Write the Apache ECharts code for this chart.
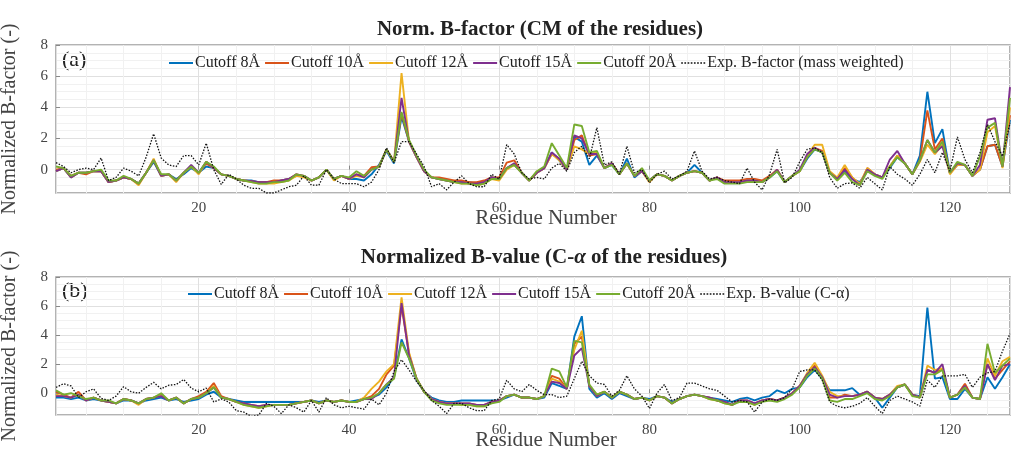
<!DOCTYPE html>
<html>
<head>
<meta charset="utf-8">
<script src="https://cdn.jsdelivr.net/npm/echarts@6/dist/echarts.min.js"></script>
<style>html,body{margin:0;background:#fff}#divChart{width:1011px;height:452px}</style>
</head>
<body>
<div id="divChart"></div>
<script>
//residue numbers 1..128
var residues = []; for (var i=1;i<=128;i++) residues.push(i)

//(a) CM of the residues
var a_cut8 = [-0.1,0.1,-0.5,-0.2,-0.2,-0.1,-0.1,-0.8,-0.7,-0.5, -0.6,-0.9,-0.2,0.5,-0.4,-0.3,-0.6,-0.3,0.1,-0.2,
  0.2,0.1,-0.3,-0.4,-0.6,-0.7,-0.7,-0.8,-0.8,-0.8, -0.7,-0.6,-0.4,-0.4,-0.7,-0.5,0,-0.6,-0.4,-0.6,
  -0.6,-0.7,-0.3,0.3,1.2,0.4,3.4,1.8,0.8,-0.1, -0.5,-0.6,-0.7,-0.8,-0.8,-0.8,-0.9,-0.8,-0.5,-0.6,
  0.1,0.3,-0.2,-0.7,-0.2,0.1,1.1,0.6,0,2.1, 1.8,0.3,0.9,0.1,0.3,-0.3,0.7,-0.5,-0.1,-0.7,
  -0.3,-0.4,-0.7,-0.4,-0.2,0.3,-0.2,-0.7,-0.5,-0.8, -0.8,-0.8,-0.7,-0.7,-0.8,-0.5,-0.1,-0.8,-0.4,-0.1,
  0.7,1.3,1.1,-0.2,-0.6,-0.1,-0.6,-0.8,-0.1,-0.3, -0.5,0.1,0.8,0.4,-0.3,0.9,5.0,1.7,2.6,-0.2,
  0.3,0.3,-0.4,0,1.5,1.6,0.2,3.2]
var a_cut10 = [0,0.1,-0.4,-0.2,-0.3,-0.1,-0.1,-0.8,-0.7,-0.5, -0.6,-0.9,-0.2,0.6,-0.4,-0.3,-0.7,-0.2,0.2,-0.2,
  0.4,0.1,-0.3,-0.4,-0.6,-0.7,-0.75,-0.8,-0.8,-0.7, -0.7,-0.6,-0.3,-0.4,-0.7,-0.5,0,-0.6,-0.4,-0.6,
  -0.3,-0.4,0.15,0.2,1.3,0.5,3.6,1.8,0.8,-0.1, -0.5,-0.5,-0.6,-0.7,-0.7,-0.8,-0.8,-0.7,-0.5,-0.5,
  0.45,0.6,-0.2,-0.7,-0.2,0.1,1.0,0.7,0,1.9, 2.2,0.9,1.0,0.1,0.4,-0.3,0.4,-0.4,-0.1,-0.7,
  -0.3,-0.4,-0.7,-0.4,-0.2,-0.1,-0.2,-0.7,-0.5,-0.7, -0.7,-0.7,-0.6,-0.6,-0.7,-0.4,0,-0.8,-0.4,-0.1,
  0.8,1.4,1.2,-0.2,-0.6,0.1,-0.5,-1.0,0.1,-0.3, -0.5,0.2,0.9,0.4,-0.3,0.6,3.8,1.3,2.0,-0.2,
  0.3,0.3,-0.4,0,1.5,1.6,0.2,3.5]
var a_cut12 = [-0.1,0.1,-0.5,-0.2,-0.2,-0.1,-0.1,-0.8,-0.7,-0.5, -0.6,-1.0,-0.2,0.7,-0.4,-0.3,-0.8,-0.2,0.2,-0.3,
  0.5,0.1,-0.3,-0.4,-0.6,-0.7,-0.8,-0.9,-0.9,-0.9, -0.8,-0.7,-0.4,-0.5,-0.7,-0.5,0,-0.7,-0.4,-0.6,
  -0.4,-0.5,0,0.2,1.3,0.5,6.2,1.8,0.8,-0.1, -0.5,-0.6,-0.7,-0.8,-0.9,-0.9,-1.0,-0.9,-0.6,-0.7,
  0,0.3,-0.2,-0.7,-0.2,0.1,1.0,0.6,0,1.5, 1.3,1.0,1.1,0.1,0.4,-0.3,0.4,-0.4,-0.1,-0.8,
  -0.3,-0.4,-0.7,-0.4,-0.2,-0.1,-0.2,-0.7,-0.5,-0.8, -0.8,-0.8,-0.7,-0.7,-0.8,-0.5,0,-0.8,-0.4,-0.1,
  0.9,1.6,1.6,-0.1,-0.5,0.3,-0.5,-0.9,0.1,-0.3, -0.5,0.2,0.9,0.4,-0.3,0.5,1.6,1.0,1.6,-0.3,
  0.3,0.3,-0.4,0,2.4,2.8,0.1,4.0]
var a_cut15 = [-0.1,0.1,-0.5,-0.2,-0.2,-0.1,-0.1,-0.8,-0.7,-0.5, -0.6,-0.9,-0.2,0.6,-0.4,-0.3,-0.7,-0.2,0.3,-0.2,
  0.5,0.1,-0.3,-0.4,-0.6,-0.7,-0.75,-0.8,-0.8,-0.8, -0.7,-0.6,-0.3,-0.4,-0.7,-0.5,0,-0.6,-0.4,-0.6,
  -0.3,-0.5,0,0.2,1.3,0.5,4.6,1.8,0.8,-0.1, -0.5,-0.6,-0.7,-0.8,-0.8,-0.9,-0.9,-0.8,-0.5,-0.6,
  0.1,0.4,-0.2,-0.7,-0.2,0.1,1.1,0.7,0,2.2, 2.0,1.0,1.0,0.1,0.4,-0.3,0.4,-0.4,-0.1,-0.7,
  -0.3,-0.4,-0.7,-0.4,-0.2,-0.1,-0.2,-0.7,-0.5,-0.8, -0.8,-0.8,-0.7,-0.7,-0.8,-0.5,0,-0.8,-0.4,0,
  1.0,1.4,1.1,-0.2,-0.6,0,-0.6,-1.0,0,-0.3, -0.5,0.65,1.2,0.4,-0.3,0.6,1.9,1.1,1.5,-0.2,
  0.4,0.3,-0.4,0.3,3.2,3.3,0.2,5.3]
var a_cut20 = [0.2,0.1,-0.4,-0.2,-0.2,-0.1,0,-0.7,-0.7,-0.4, -0.6,-0.9,-0.2,0.6,-0.3,-0.3,-0.7,-0.2,0.2,-0.2,
  0.5,0.2,-0.3,-0.4,-0.6,-0.7,-0.8,-0.9,-0.9,-0.8, -0.8,-0.7,-0.3,-0.4,-0.7,-0.5,0,-0.6,-0.4,-0.5,
  -0.1,-0.4,0,0.2,1.3,0.5,3.7,1.9,0.9,0, -0.5,-0.6,-0.7,-0.8,-0.9,-0.9,-1.0,-0.9,-0.6,-0.6,
  0.1,0.3,-0.2,-0.7,-0.1,0.2,1.7,0.9,0.1,2.9, 2.8,1.1,1.2,0.1,0.3,-0.3,0.4,-0.4,0.1,-0.7,
  -0.3,-0.4,-0.7,-0.4,-0.2,-0.1,-0.2,-0.7,-0.6,-0.9, -0.9,-0.9,-0.8,-0.8,-0.8,-0.5,-0.1,-0.8,-0.4,-0.1,
  0.8,1.3,1.1,-0.2,-0.7,-0.2,-0.8,-1.0,-0.1,-0.4, -0.6,0.2,0.8,0.4,-0.3,0.6,1.9,1.1,1.8,-0.2,
  0.5,0.3,-0.4,0.85,2.7,3.0,0.2,4.6]
var a_exp = [0.45,0.2,-0.2,0,0.1,0,0.75,-0.7,-0.5,0.1, -0.1,-0.4,0.8,2.3,0.75,0.3,0.2,0.9,0.9,0.3,
  1.7,0,-0.95,-0.3,-0.6,-1.0,-1.2,-1.2,-1.5,-1.5, -1.3,-1.1,-1.0,-0.4,-1.0,-1.0,0,-0.6,-0.9,-0.9,
  -0.9,-1.1,-0.8,0,1.4,0.45,1.8,1.8,1.0,0.2, -1.1,-0.9,-1.3,-0.8,-0.4,-0.9,-1.1,-1.1,-0.3,-0.6,
  1.6,1.0,-0.2,-0.6,-0.5,-0.6,0.1,0.4,-0.1,1.1, 1.5,0.7,2.7,0.3,0.5,-0.3,1.5,-0.2,0,-0.85,
  -0.3,-0.1,-0.6,-0.4,-0.1,1.2,-0.1,-0.6,-0.5,-0.7, -0.8,-0.9,0.1,-0.8,-1.3,-0.3,1.3,-0.85,-0.5,0.5,
  1.3,1.4,1.1,-0.5,-1.2,-0.9,-0.85,-1.2,-0.5,-0.9, -1.3,0.2,-0.3,-0.6,-1.0,-0.3,0.65,-0.2,1.1,-0.1,
  2.1,0.65,-0.2,1.1,2.9,1.8,0.85,3.0]

//(b) C-alpha of the residues
var b_cut8 = [-0.3,-0.3,-0.4,-0.3,-0.5,-0.4,-0.5,-0.6,-0.7,-0.5, -0.5,-0.7,-0.5,-0.4,-0.3,-0.5,-0.4,-0.6,-0.5,-0.4,
  -0.1,0.1,-0.3,-0.4,-0.5,-0.6,-0.6,-0.6,-0.6,-0.6, -0.6,-0.6,-0.6,-0.6,-0.5,-0.6,-0.5,-0.6,-0.5,-0.6,
  -0.5,-0.4,-0.3,-0.1,0.4,1.1,3.7,2.4,0.9,0.1, -0.3,-0.5,-0.6,-0.6,-0.5,-0.5,-0.5,-0.5,-0.5,-0.5,
  -0.3,-0.1,-0.3,-0.3,-0.4,-0.3,0.7,0.5,0.3,3.9, 5.3,0.3,-0.3,0,-0.4,0,-0.2,-0.4,-0.3,-0.4,
  -0.2,-0.3,-0.6,-0.4,-0.2,-0.1,-0.2,-0.3,-0.4,-0.5, -0.6,-0.4,-0.3,-0.5,-0.3,-0.2,0.2,0,0.3,0.4,
  1.1,1.6,1.0,0.2,0.2,0.2,0.35,-0.1,0.1,-0.3, -1.0,-0.3,0.4,0.6,-0.1,-0.2,5.9,1.0,1.1,-0.4,
  -0.4,0.3,-0.3,-0.4,1.1,0.3,1.1,2.0]
var b_cut10 = [0.1,-0.1,-0.3,0.1,-0.5,-0.3,-0.5,-0.6,-0.7,-0.4, -0.5,-0.7,-0.4,-0.3,-0.1,-0.5,-0.3,-0.7,-0.4,-0.2,
  0.1,0.7,-0.2,-0.4,-0.6,-0.7,-0.8,-0.9,-0.8,-0.8, -0.8,-0.8,-0.7,-0.6,-0.5,-0.7,-0.5,-0.6,-0.5,-0.6,
  -0.6,-0.4,-0.2,0.3,1.3,1.9,6.0,2.7,1.0,0.1, -0.4,-0.6,-0.7,-0.7,-0.7,-0.7,-0.8,-0.8,-0.6,-0.5,
  -0.2,-0.1,-0.3,-0.3,-0.4,-0.2,1.2,1.0,0.3,3.4, 3.9,0.5,-0.1,0.1,-0.3,0.1,-0.1,-0.4,-0.3,-0.5,
  -0.2,-0.3,-0.7,-0.4,-0.2,-0.1,-0.2,-0.3,-0.5,-0.6, -0.8,-0.5,-0.5,-0.7,-0.5,-0.4,-0.5,-0.3,0,0.5,
  1.3,1.9,1.1,-0.3,-0.3,-0.1,-0.2,-0.1,0.1,-0.3, -0.4,-0.1,0.4,0.6,-0.1,-0.3,1.6,1.4,1.7,-0.3,
  -0.1,0.65,-0.3,-0.4,2.0,1.0,1.6,2.2]
var b_cut12 = [-0.1,-0.2,-0.3,-0.1,-0.5,-0.3,-0.5,-0.6,-0.7,-0.4, -0.5,-0.8,-0.4,-0.3,-0.1,-0.5,-0.3,-0.7,-0.4,-0.3,
  0,0.5,-0.3,-0.4,-0.6,-0.8,-0.9,-1.0,-0.9,-0.8, -0.8,-0.8,-0.7,-0.6,-0.5,-0.7,-0.5,-0.6,-0.5,-0.6,
  -0.6,-0.3,0.3,0.8,1.5,2.0,6.6,2.8,1.0,0.1, -0.4,-0.6,-0.7,-0.7,-0.8,-0.8,-0.9,-0.9,-0.6,-0.5,
  -0.2,-0.1,-0.3,-0.3,-0.4,-0.2,1.0,0.8,0.3,3.0, 4.3,0.5,-0.2,0.1,-0.3,0.1,-0.1,-0.4,-0.3,-0.5,
  -0.2,-0.3,-0.7,-0.4,-0.2,-0.1,-0.2,-0.4,-0.5,-0.7, -0.8,-0.5,-0.6,-0.8,-0.5,-0.4,-0.5,-0.3,0,0.5,
  1.4,2.1,1.2,0.1,-0.2,-0.2,-0.2,-0.1,0.1,-0.3, -0.4,-0.1,0.5,0.6,-0.1,-0.3,1.9,1.6,1.7,-0.3,
  -0.1,0.4,-0.3,-0.4,2.4,1.2,2.2,2.5]
var b_cut15 = [-0.2,-0.2,-0.3,-0.1,-0.5,-0.3,-0.5,-0.6,-0.7,-0.4, -0.5,-0.7,-0.4,-0.3,-0.2,-0.5,-0.3,-0.7,-0.4,-0.3,
  0,0.4,-0.3,-0.4,-0.6,-0.7,-0.8,-0.9,-0.8,-0.8, -0.8,-0.8,-0.7,-0.6,-0.5,-0.7,-0.5,-0.6,-0.5,-0.6,
  -0.6,-0.4,-0.4,0,0.6,1.1,6.2,2.6,1.0,0.1, -0.4,-0.6,-0.7,-0.7,-0.7,-0.7,-0.8,-0.8,-0.6,-0.5,
  -0.2,-0.1,-0.3,-0.3,-0.4,-0.2,0.8,0.7,0.3,2.6, 3.1,0.5,-0.2,0.1,-0.3,0.1,-0.1,-0.4,-0.3,-0.5,
  -0.2,-0.3,-0.7,-0.4,-0.2,-0.1,-0.2,-0.3,-0.5,-0.6, -0.8,-0.5,-0.5,-0.7,-0.5,-0.4,-0.5,-0.3,0,0.5,
  1.3,1.8,1.1,-0.1,-0.3,-0.2,-0.2,-0.1,0.1,-0.3, -0.4,-0.1,0.4,0.6,-0.1,-0.3,1.6,1.4,2.0,-0.3,
  -0.1,0.5,-0.3,-0.4,2.0,0.9,1.9,2.0]
var b_cut20 = [0.2,-0.1,0,-0.2,-0.4,-0.3,-0.5,-0.5,-0.7,-0.4, -0.5,-0.7,-0.4,-0.3,0,-0.5,-0.3,-0.7,-0.4,-0.3,
  0,0.4,-0.3,-0.4,-0.6,-0.8,-0.9,-1.0,-0.9,-0.8, -0.8,-0.8,-0.7,-0.6,-0.5,-0.7,-0.5,-0.6,-0.5,-0.6,
  -0.6,-0.4,-0.3,0,0.6,1.0,3.5,2.4,1.0,0.1, -0.5,-0.7,-0.8,-0.8,-0.8,-0.8,-0.9,-0.9,-0.7,-0.6,
  -0.2,-0.1,-0.3,-0.3,-0.4,-0.2,1.7,1.5,0.4,3.6, 3.5,0.6,-0.1,0.1,-0.3,0.1,-0.1,-0.4,-0.3,-0.5,
  -0.2,-0.3,-0.7,-0.4,-0.2,-0.1,-0.2,-0.4,-0.5,-0.7, -0.8,-0.6,-0.6,-0.8,-0.6,-0.5,-0.6,-0.4,-0.1,0.4,
  1.2,1.7,1.0,-0.5,-0.6,-0.4,-0.4,-0.2,0,-0.4, -0.5,-0.2,0.4,0.6,-0.2,-0.3,1.3,1.3,1.6,-0.3,
  -0.1,0.4,-0.3,-0.4,3.4,1.4,1.9,2.4]
var b_exp = [0.4,0.65,0.5,-0.3,0.1,0.3,-0.35,-0.5,-0.2,0.45, 0.1,0,0.4,0.75,0.3,0.55,0.6,0.95,0.35,0.1,
  0.35,-0.6,-0.4,-0.6,-1.2,-1.3,-1.6,-1.5,-0.7,-0.9, -1.4,-0.8,-1.0,-1.3,-0.5,-1.3,-0.3,-0.8,-1.0,-0.9,
  -1.0,-1.1,-0.4,-0.8,0,1.5,2.3,1.6,0.8,0.2, -0.5,-0.9,-1.4,-0.7,-0.7,-1.0,-1.2,-1.2,-0.5,-0.4,
  0.9,0.3,0.1,0.6,0.2,-0.1,-0.1,-0.3,-0.2,1.0, 2.2,1.2,0.7,0.6,-0.2,0.2,1.2,0.3,-0.2,-1.05,
  0,0.6,-0.5,-0.3,0.7,0.7,0.5,0.3,0.2,-0.2, -0.6,-0.5,-0.6,-1.3,-0.6,-0.4,-0.5,-0.3,0.3,1.5,
  1.6,1.6,0.9,-0.6,-0.9,-1.0,-0.9,-0.7,-0.3,-0.9, -1.4,-0.5,-0.2,-0.4,-0.6,-0.9,0.9,0.4,1.2,1.2,
  1.2,1.3,0.4,1.1,1.4,1.5,2.9,4.1]

var names_a = ['Cutoff 8Å','Cutoff 10Å','Cutoff 12Å','Cutoff 15Å','Cutoff 20Å','Exp. B-factor (mass weighted)']
var names_b = ['Cutoff 8Å','Cutoff 10Å','Cutoff 12Å','Cutoff 15Å','Cutoff 20Å','Exp. B-value (C-α)']
var colors = ['#0072BD','#D95319','#EDB120','#7E2F8E','#77AC30','#111111']

var FONT = '"Liberation Serif", serif'
var xy = ys=>ys.map((v,i)=>[residues[i],v])

//legend icons: plain bar for the models, row of dots for the experiment
var DOTS = 'path://'+[0,3,6,9,12,15,18,21].map(x=>`M${x},0h1.6v1.6h-1.6z`).join('')

var mkX = (gi)=>({
  type:'value', gridIndex:gi, min:1, max:128, splitNumber:6,
  axisLine:{show:false},
  axisTick:{inside:true,length:4,lineStyle:{color:'#888'}},
  axisLabel:{showMinLabel:false,showMaxLabel:false,fontFamily:FONT,fontSize:15,color:'#444',margin:8},
  splitLine:{show:true,lineStyle:{color:'#e0e0e0',width:1}},
  minorTick:{show:false,splitNumber:4},
  minorSplitLine:{show:true,lineStyle:{color:'#f1f1f1',width:1}},
  name:'Residue Number', nameLocation:'middle', nameGap:15, nameMoveOverlap:false,
  nameTextStyle:{fontFamily:FONT,fontSize:21,color:'#444',padding:[0,0,0,26]}
})
var mkY = (gi)=>({
  type:'value', gridIndex:gi, min:-1.5, max:8, splitNumber:5,
  axisLine:{show:false},
  axisTick:{inside:true,length:4,lineStyle:{color:'#888'}},
  axisLabel:{showMinLabel:false,fontFamily:FONT,fontSize:15,color:'#444',margin:8},
  splitLine:{show:true,lineStyle:{color:'#e0e0e0',width:1}},
  minorTick:{show:false,splitNumber:4},
  minorSplitLine:{show:true,lineStyle:{color:'#f1f1f1',width:1}},
  name:'Normalized B-factor (-)', nameLocation:'middle', nameGap:36,
  nameTextStyle:{fontFamily:FONT,fontSize:20,color:'#444'}
})

var mkSeries = (gi,names,arrs)=>arrs.map((ys,k)=>({
  type:'line', name:names[k], xAxisIndex:gi, yAxisIndex:gi,
  data:xy(ys), symbol:'none', animation:false,
  lineStyle: k<5 ? {color:colors[k],width:1.9} : {color:colors[k],width:1.3,type:[1.5,1.5]},
  itemStyle:{color:colors[k]}, z:2+k
}))

var mkLegend = (names,left,top)=>({
  data:names.map((n,k)=>({name:n,icon:k<5?'rect':DOTS,itemStyle:{color:colors[k]}})),
  left:left, top:top, itemWidth:24, itemHeight:2, itemGap:5,
  textStyle:{fontFamily:FONT,fontSize:16,color:'#222',padding:[0,0,0,-3]},
  selectedMode:false
})

var chart = echarts.init(document.getElementById('divChart'))
chart.setOption({
  backgroundColor:'#fff',
  animation:false,
  grid:[
    {left:56,top:45,width:954,height:148,show:true,borderColor:'#9a9a9a',borderWidth:1.5,outerBoundsMode:'none'},
    {left:56,top:277,width:954,height:138,show:true,borderColor:'#9a9a9a',borderWidth:1.5,outerBoundsMode:'none'}
  ],
  xAxis:[mkX(0),mkX(1)],
  yAxis:[mkY(0),mkY(1)],
  legend:[mkLegend(names_a,164,50),mkLegend(names_b,183,281)],
  series:[].concat(
    mkSeries(0,names_a,[a_cut8,a_cut10,a_cut12,a_cut15,a_cut20,a_exp]),
    mkSeries(1,names_b,[b_cut8,b_cut10,b_cut12,b_cut15,b_cut20,b_exp])
  ),
  graphic:[
    {type:'text',x:540,y:30,style:{text:'Norm. B-factor (CM of the residues)',font:'bold 21px '+FONT,fill:'#222',textAlign:'center',textVerticalAlign:'middle'}},
    {type:'text',x:544,y:258,style:{
      text:'{b|Normalized B-value (C-}{i|α}{b| of the residues)}',
      rich:{b:{font:'bold 21px '+FONT,fill:'#222'},i:{font:'italic bold 21px '+FONT,fill:'#222'}},
      textAlign:'center',textVerticalAlign:'middle'}},
    {type:'text',x:62,y:60,style:{text:'(a)',font:'22px '+FONT,fill:'#222',textVerticalAlign:'middle'}},
    {type:'text',x:62,y:291,style:{text:'(b)',font:'22px '+FONT,fill:'#222',textVerticalAlign:'middle'}}
  ]
})
</script>
</body>
</html>
